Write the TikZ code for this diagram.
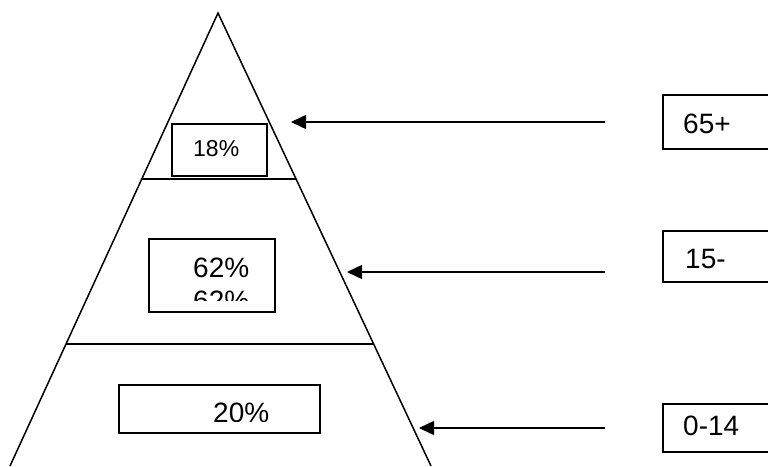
\documentclass[tikz,border=0pt]{standalone}
\usepackage{fontspec}
\setmainfont{Liberation Sans}
\usetikzlibrary{calc,arrows.meta}
\tikzset{
  pyramid/.style={
    line width=1.5pt,
    line join=miter
  },
  pct-box/.style={draw, line width=2pt, inner sep=0pt, anchor=north west},
  age-box/.style={draw, line width=2pt, inner sep=0pt, anchor=north west, minimum width=130pt},
  age-arrow/.style={line width=1.5pt, -{Triangle[length=15pt,width=14pt]}},
  big-label/.style={anchor=base west, inner sep=0pt, font=\fontsize{28}{33}\selectfont},
  small-label/.style={anchor=base west, inner sep=0pt, font=\fontsize{23}{27}\selectfont}
}

\begin{document}
\begin{tikzpicture}[x=1pt, y=-1pt]
  \useasboundingbox (0,0) rectangle (768,466);
  \clip (0,0) rectangle (768,466);

  % Pyramid
  \coordinate (apex) at (218,13);
  \coordinate (base-l) at (10,466);
  \coordinate (base-r) at (431,466);
  \draw[pyramid] (base-l) -- (apex) -- (base-r);
  \draw[pyramid] ($(apex)!0.3664!(base-l)$) -- ($(apex)!0.3664!(base-r)$);
  \draw[pyramid] ($(apex)!0.7307!(base-l)$) -- ($(apex)!0.7307!(base-r)$);

  % Share boxes
  \node[pct-box, minimum width=95pt, minimum height=52pt] (old-box) at (171,123) {};
  \node[small-label] (old-pct) at (193,156) {18\%};

  \node[pct-box, minimum width=126pt, minimum height=73pt] (work-box) at (148,238) {};
  \node[big-label] (work-pct) at (193,277) {62\%};
  \begin{scope}
    \clip (148,238) rectangle (274,300);
    \node[big-label] (work-pct-b) at (193,310) {62\%};
  \end{scope}

  \node[pct-box, minimum width=201pt, minimum height=48pt] (young-box) at (118,384) {};
  \begin{scope}
    \clip (118,384) rectangle (319,421.5);
    \node[big-label] (young-pct) at (213,422.5) {20\%};
  \end{scope}

  % Age groups
  \node[age-box, minimum height=54pt] (old-age) at (662,94) {};
  \node[big-label] (old-txt) at (683,133) {65+};
  \node[age-box, minimum height=51pt] (work-age) at (662,230) {};
  \node[big-label] (work-txt) at (685,268) {15-};
  \node[age-box, minimum height=48pt] (young-age) at (662,403) {};
  \node[big-label] (young-txt) at (683,435) {0-14};

  % Arrows
  \coordinate (old-tail) at (605,122);
  \coordinate (old-tip) at (291,122);
  \coordinate (work-tail) at (605,272);
  \coordinate (work-tip) at (347,272);
  \coordinate (young-tail) at (605,428);
  \coordinate (young-tip) at (419,428);
  \foreach \g in {old,work,young} {
    \draw[age-arrow] (\g-tail) -- (\g-tip);
  }
\end{tikzpicture}
\end{document}
